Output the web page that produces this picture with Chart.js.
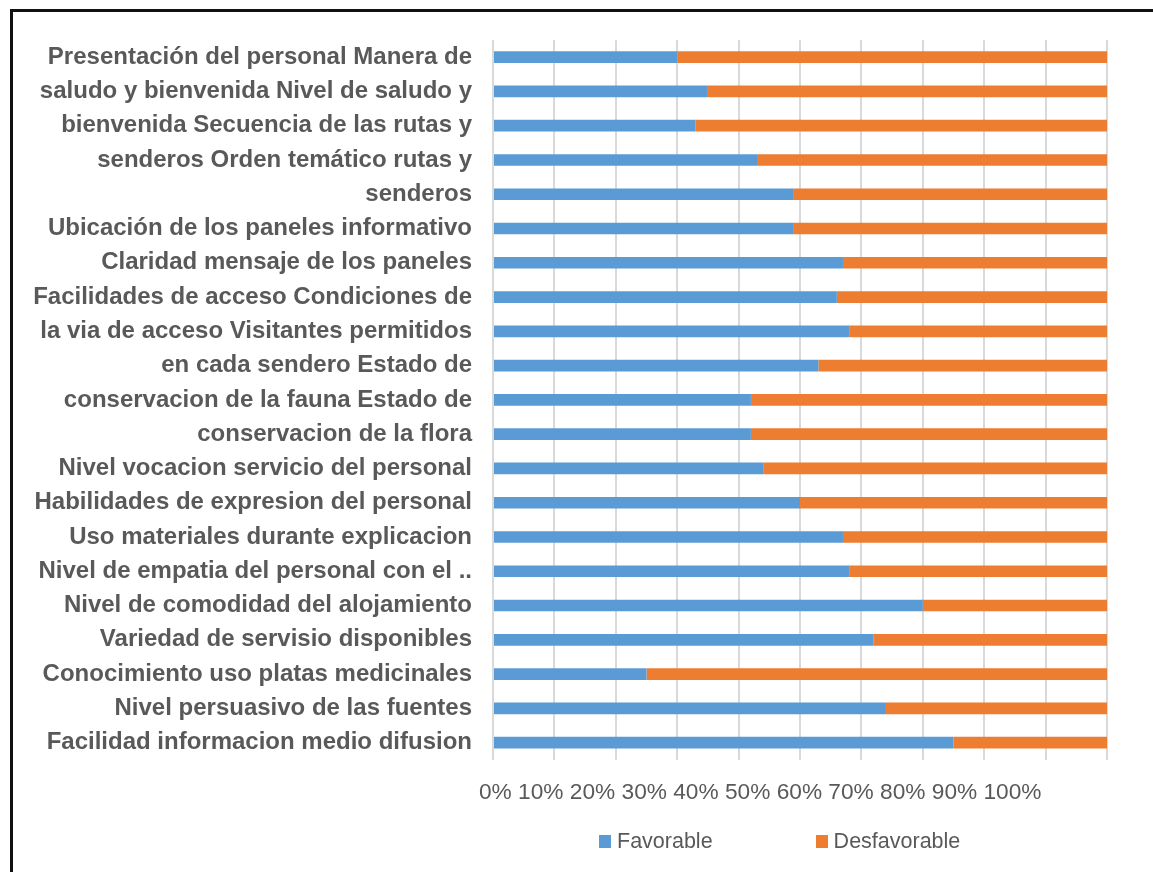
<!DOCTYPE html>
<html lang="es">
<head>
<meta charset="utf-8">
<title>Favorable / Desfavorable</title>
<script src="https://cdn.jsdelivr.net/npm/chart.js@4.4.1/dist/chart.umd.min.js"></script>
<style>
  html, body { margin: 0; padding: 0; background: #fff; }
  body {
    width: 1153px;
    height: 872px;
    position: relative;
    overflow: hidden;
    font-family: "Liberation Sans", Arial, sans-serif;
  }
  .marco {
    position: absolute;
    left: 10px;
    top: 9px;
    width: 1200px;
    height: 900px;
    border-top: 3px solid #111;
    border-left: 3px solid #111;
  }
  .grafico {
    position: absolute;
    left: 0;
    top: 0;
    width: 1153px;
    height: 872px;
  }
  .leyenda {
    position: absolute;
    left: 599px;
    top: 829px;
    display: flex;
    gap: 103px;
    color: #595959;
    font-size: 21.5px;
    line-height: 24px;
  }
  .leyenda span { display: flex; align-items: center; }
  .leyenda i {
    display: inline-block;
    width: 12px;
    height: 13px;
    margin-right: 6px;
  }
</style>
</head>
<body>
<div class="marco"></div>
<div class="grafico"><canvas id="grafico"></canvas></div>
<div class="leyenda" id="leyenda"></div>

<script>
// datos (porcentaje)
const categorias = [
  "Presentación del personal Manera de",
  "saludo y bienvenida Nivel de saludo y",
  "bienvenida Secuencia de las rutas y",
  "senderos Orden temático rutas y",
  "senderos",
  "Ubicación de los paneles informativo",
  "Claridad mensaje de los paneles",
  "Facilidades de acceso Condiciones de",
  "la via de acceso Visitantes permitidos",
  "en cada sendero Estado de",
  "conservacion de la fauna Estado de",
  "conservacion de la flora",
  "Nivel vocacion servicio del personal",
  "Habilidades de expresion del personal",
  "Uso materiales durante explicacion",
  "Nivel de empatia del personal con el ..",
  "Nivel de comodidad del alojamiento",
  "Variedad de servisio disponibles",
  "Conocimiento uso platas medicinales",
  "Nivel persuasivo de las fuentes",
  "Facilidad informacion medio difusion",
];

const favorable = [30, 35, 33, 43, 49, 49, 57, 56, 58, 53, 42, 42, 44, 50, 57, 58, 70, 62, 25, 64, 75];
const desfavorable = [70, 65, 67, 57, 51, 51, 43, 44, 42, 47, 58, 58, 56, 50, 43, 42, 30, 38, 75, 36, 25];

const etiquetasX = ["0%", "10%", "20%", "30%", "40%", "50%", "60%", "70%", "80%", "90%", "100%"];

const nombres = ["Favorable", "Desfavorable"];
const colores = ["#5B9BD5", "#ED7D31"];

const gris = "#595959";
const fuente = "'Liberation Sans', Arial, sans-serif";
const tamTicks = 22.7;

const ctx = document.getElementById("grafico").getContext("2d");
new Chart(ctx, {
  type: "bar",
  data: {
    labels: categorias,
    datasets: [
      { label: nombres[0], data: favorable, backgroundColor: colores[0] },
      { label: nombres[1], data: desfavorable, backgroundColor: colores[1] },
    ],
  },
  options: {
    indexAxis: "y",
    responsive: true,
    maintainAspectRatio: false,
    animation: false,
    layout: { padding: { top: 40, right: 46, bottom: 47, left: 0 } },
    datasets: {
      bar: { barPercentage: 0.34, categoryPercentage: 1, borderWidth: 0 },
    },
    scales: {
      x: {
        stacked: true,
        min: 0,
        max: 100,
        weight: 2,
        grid: { color: "#d9d9d9", lineWidth: 2, drawTicks: false },
        border: { display: false },
        ticks: { display: false, stepSize: 10 },
      },
      // en el original los textos de abajo van seguidos como una sola linea,
      // no debajo de cada linea de la rejilla -> eje aparte en pixeles
      x2: {
        type: "linear",
        position: "bottom",
        weight: 1,
        min: 0,
        max: 614,
        grid: { display: false, drawTicks: false },
        border: { display: false },
        afterBuildTicks: (axis) => {
          const c = axis.chart.ctx;
          c.save();
          c.font = tamTicks + "px " + fuente;
          const espacio = c.measureText(" ").width;
          let x = -14;
          axis.ticks = etiquetasX.map((t) => {
            const w = c.measureText(t).width;
            const centro = x + w / 2;
            x += w + espacio;
            return { value: centro };
          });
          c.restore();
        },
        ticks: {
          padding: 19,
          autoSkip: false,
          maxRotation: 0,
          color: gris,
          font: { family: fuente, size: tamTicks },
          callback: (v, i) => etiquetasX[i] ?? "",
        },
      },
      y: {
        stacked: true,
        grid: { display: false, drawTicks: false },
        border: { display: false },
        afterFit: (axis) => {
          axis.width = 493;
        },
        ticks: {
          autoSkip: false,
          padding: 21,
          color: gris,
          font: { family: fuente, size: 24, weight: "bold" },
        },
      },
    },
    plugins: {
      legend: { display: false },
      tooltip: { enabled: false },
    },
  },
});

// leyenda abajo
const leyenda = document.getElementById("leyenda");
nombres.forEach((n, i) => {
  const item = document.createElement("span");
  const cuadro = document.createElement("i");
  cuadro.style.background = colores[i];
  item.appendChild(cuadro);
  item.appendChild(document.createTextNode(n));
  leyenda.appendChild(item);
});
</script>
</body>
</html>
